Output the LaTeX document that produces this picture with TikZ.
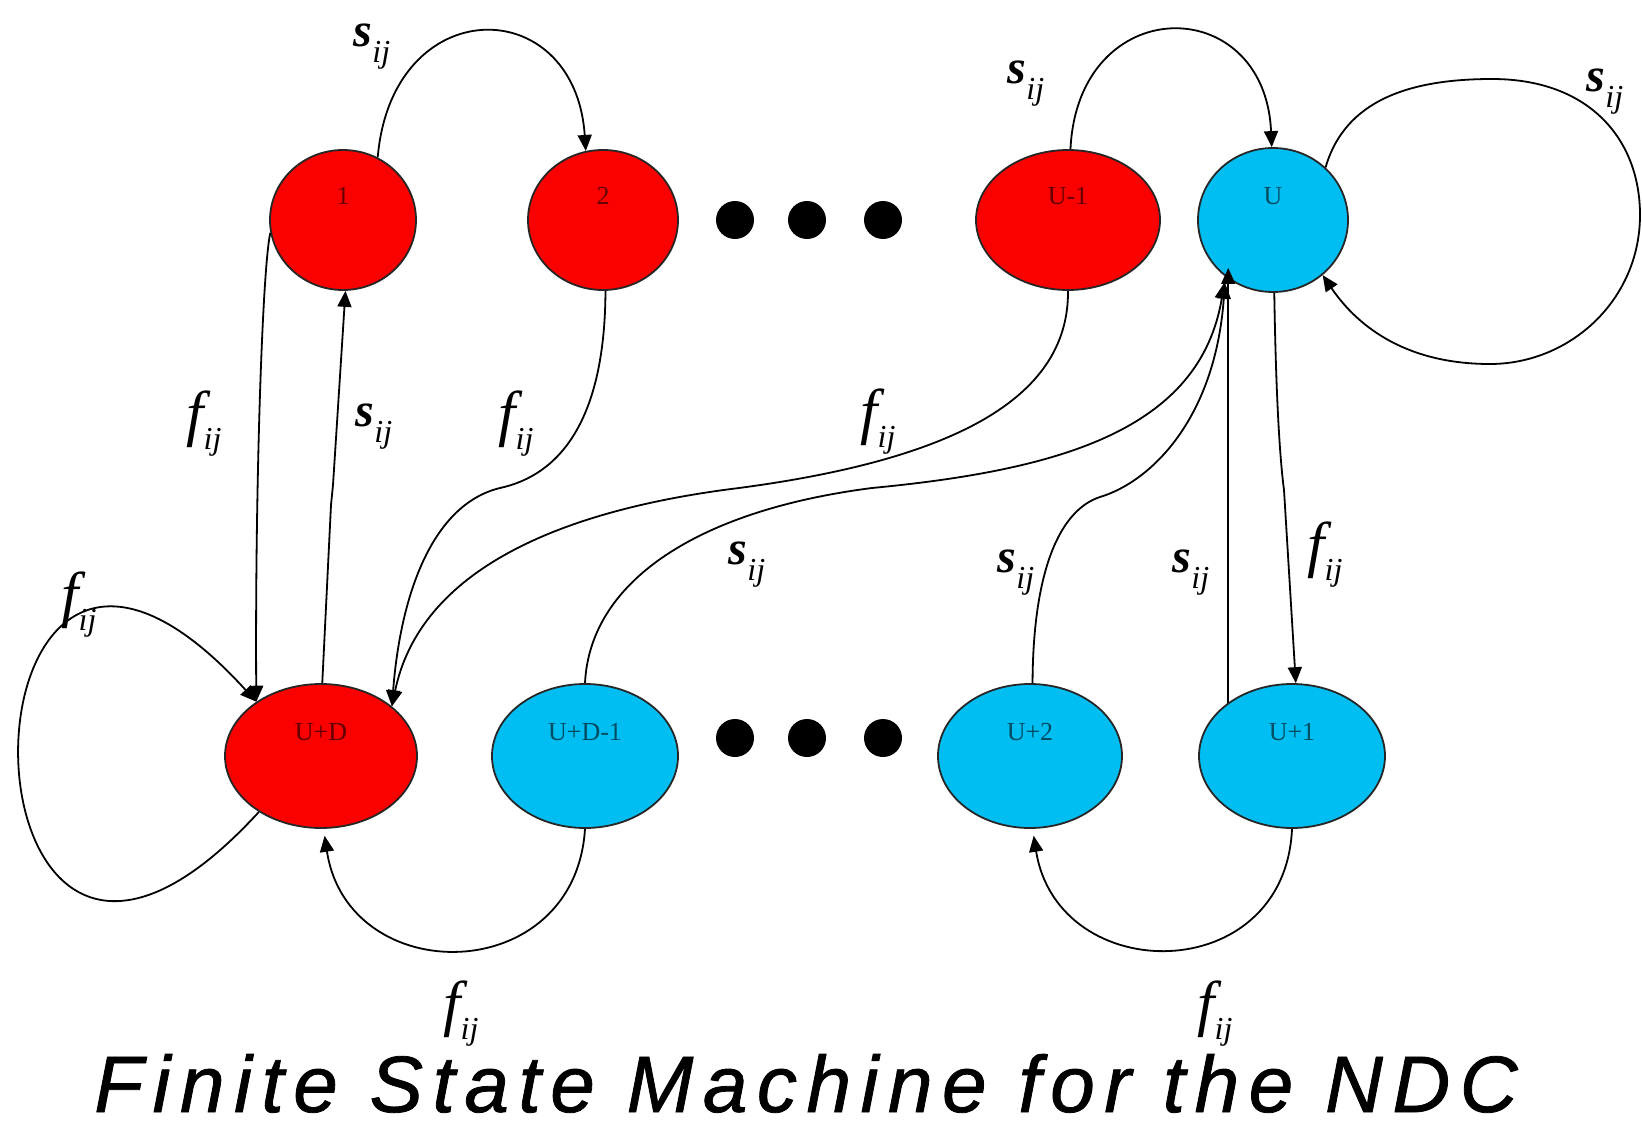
\documentclass[tikz,border=0pt]{standalone}
\usepackage{fontspec}
\setmainfont{Liberation Serif}
\setsansfont{Liberation Sans}
\newfontfamily\titlefont[LetterSpace=12,FakeBold=1]{Liberation Sans}
\usetikzlibrary{positioning,shapes.geometric,arrows.meta}
\definecolor{statered}{RGB}{250,0,0}
\definecolor{stateblue}{RGB}{0,190,242}
\newcommand{\sij}{{\fontsize{48}{48}\selectfont\bfseries\itshape s}\raisebox{-16pt}{\fontsize{32}{32}\selectfont\itshape ij}}
\newcommand{\fij}{{\fontsize{62}{62}\selectfont\itshape f}\raisebox{-15pt}{\fontsize{32}{32}\selectfont\itshape ij}}
\tikzset{
  fsmstate/.style={ellipse, draw=black!85, line width=1.8pt, inner sep=0pt,
    font=\fontsize{26}{26}\selectfont, text height=19pt, text depth=51pt, text opacity=0.6},
  redstate/.style={fsmstate, fill=statered},
  bluestate/.style={fsmstate, fill=stateblue},
  trans/.style={line width=1.8pt, -{Triangle[length=16pt,width=14pt]}},
  lbl/.style={inner sep=0pt}
}
\begin{document}
\begin{tikzpicture}[x=1pt, y=-1pt]
  \useasboundingbox[fill=white] (0,0) rectangle (1642,1127);
  % states
  \node[redstate, minimum width=146pt, minimum height=140pt] (s1) at (343,220) {1};
  \node[redstate, minimum width=150pt, minimum height=140pt] (s2) at (603,220) {2};
  \node[redstate, minimum width=184pt, minimum height=140pt] (sUm1) at (1068,220) {U-1};
  \node[bluestate, minimum width=150pt, minimum height=144pt] (sU) at (1273,220) {U};
  \node[redstate, minimum width=192pt, minimum height=144pt] (sUD) at (321,756) {U+D};
  \node[bluestate, minimum width=186pt, minimum height=144pt] (sUDm1) at (585,756) {U+D-1};
  \node[bluestate, minimum width=184pt, minimum height=144pt] (sU2) at (1030,756) {U+2};
  \node[bluestate, minimum width=186pt, minimum height=144pt] (sU1) at (1292,756) {U+1};
  % dots
  \foreach \x in {735,807,883} {
    \fill (\x,220) circle[radius=19];
    \fill (\x,738) circle[radius=19];
  }
  % upper row
  \draw[trans] (s1.61) .. controls (392,-9) and (575,-9) .. (s2.104) node[lbl] (ls12) at (372,47) {\sij};
  \draw[trans] (sUm1.88) .. controls (1078,-9) and (1265,-9) .. (sU.91) node[lbl] (lsUm1) at (1026,84) {\sij};
  \draw[trans] (sU.45) .. controls (1345,100) and (1410,79) .. (1492,79)
    .. controls (1590,79) and (1640,140) .. (1640,215)
    .. controls (1640,300) and (1570,364) .. (1490,364)
    .. controls (1410,364) and (1360,330) .. (sU.312) node[lbl] (lsUU) at (1605,92) {\sij};
  % down to U+D
  \draw[trans] (s1.190) .. controls (262,270) and (255,500) .. (sUD.140) node[lbl] (lf1) at (204,424) {\fij};
  \draw[trans] (sUD.222) .. controls (-60,1160) and (-60,354) .. (sUD.140) node[lbl] (lfUD) at (79,605) {\fij};
  \draw[trans] (sUD.89) -- (331,505) -- (333,485) -- (s1.272) node[lbl] (lsUD) at (374,427) {\sij};
  \draw[trans] (s2.272) .. controls (605,420) and (560,475) .. (500,488)
    .. controls (430,505) and (400,600) .. (sUD.35) node[lbl] (lf2) at (516,424) {\fij};
  \draw[trans] (sUm1.270) .. controls (1069,400) and (950,460) .. (739,488)
    .. controls (560,510) and (420,570) .. (sUD.35) node[lbl] (lfUm1) at (878,422) {\fij};
  % up to U
  \draw[trans, shorten >=6pt] (sUDm1.90) .. controls (590,580) and (700,510) .. (872,488)
    .. controls (1060,470) and (1200,430) .. (sU.230) node[lbl] (lsUDm1) at (747,565) {\sij};
  \draw[trans, shorten >=6pt] (sU2.88) .. controls (1033,570) and (1060,510) .. (1100,497)
    .. controls (1150,482) and (1215,420) .. (sU.230) node[lbl] (lsU2) at (1016,573) {\sij};
  \draw[trans] (sU1.140) -- (sU1.140 |- sU.220) node[lbl] (lsU1) at (1191,573) {\sij};
  \draw[trans] (sU.271) .. controls (1276,400) and (1280,460) .. (1284,490) -- (sU1.87) node[lbl] (lfU) at (1325,555) {\fij};
  % lower row
  \draw[trans, shorten >=7pt] (sUDm1.270) .. controls (575,988) and (348,990) .. (sUD.272) node[lbl] (lfUDm1) at (461,1014) {\fij};
  \draw[trans, shorten >=7pt] (sU1.270) .. controls (1285,988) and (1058,988) .. (sU2.272) node[lbl] (lfU1) at (1215,1014) {\fij};
  % caption
  \node[font=\titlefont\fontsize{80}{80}\selectfont\itshape, anchor=base, inner sep=0pt] (title) at (806,1112) {Finite State Machine for the NDC};
\end{tikzpicture}
\end{document}
